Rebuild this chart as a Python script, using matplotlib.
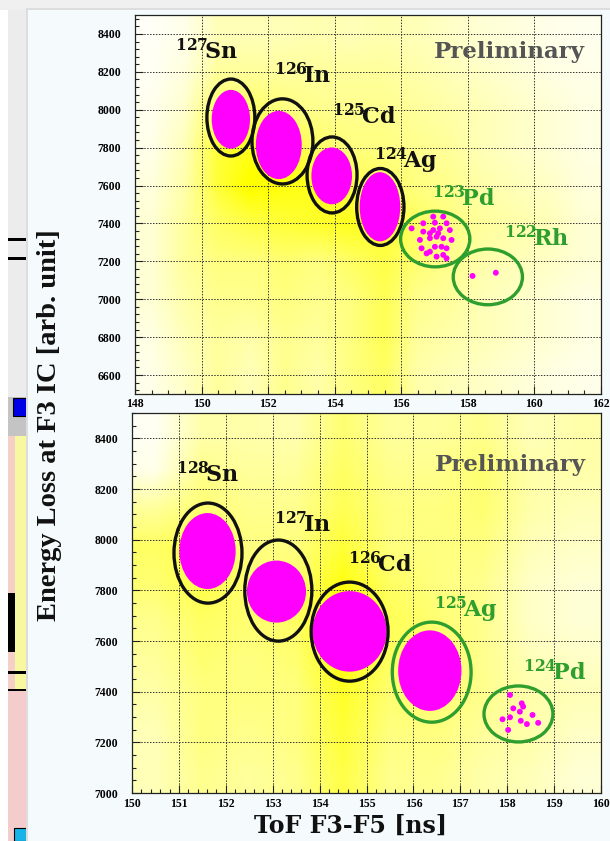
import numpy as np
import matplotlib
matplotlib.use('Agg')
import matplotlib.pyplot as plt
from matplotlib.patches import Ellipse, Rectangle
from matplotlib.colors import LinearSegmentedColormap
from matplotlib.ticker import MultipleLocator

plt.rcParams['font.family'] = ['Liberation Serif', 'DejaVu Serif']
plt.rcParams['font.weight'] = 'bold'
plt.rcParams['mathtext.fontset'] = 'dejavuserif'

# ---------------- data: top panel ----------------
top_mass = ['127', '126', '125', '124', '123', '122']
top_elem = ['Sn', 'In', 'Cd', 'Ag', 'Pd', 'Rh']
top_lab_x = [150.16, 153.05, 154.88, 156.14, 157.88, 160.08]
top_lab_y = [8305, 8178, 7962, 7730, 7529, 7318]
top_ring_x = [150.88, 152.43, 153.92, 155.37, 157.02, 158.60]
top_ring_y = [7959, 7833, 7656, 7487, 7318, 7118]
top_ring_w = [1.44, 1.83, 1.50, 1.42, 2.08, 2.08]
top_ring_h = [406, 449, 401, 406, 294, 294]
top_green = [False, False, False, False, True, True]
top_fill_x = [150.88, 152.32, 153.91, 155.36]
top_fill_y = [7950, 7814, 7651, 7488]
top_fill_w = [1.15, 1.38, 1.22, 1.22]
top_fill_h = [310, 360, 300, 365]
top_pd_x = [156.31, 156.66, 156.96, 157.26, 157.01, 157.36, 157.46, 157.16, 156.86,
            156.66, 156.56, 156.86, 157.06, 157.26, 157.51, 156.61, 156.86, 157.01,
            157.21, 157.36, 157.06, 157.26, 157.36, 156.76, 157.11, 156.96]
top_pd_y = [7374, 7401, 7436, 7436, 7404, 7401, 7365, 7374, 7348,
            7357, 7313, 7322, 7330, 7322, 7313, 7269, 7251, 7277,
            7277, 7269, 7225, 7234, 7216, 7242, 7348, 7365]
top_rh_x = [158.14, 158.84]
top_rh_y = [7123, 7140]
# background density (rows from 8500 down to 6500, columns 148..162 per ns)
top_density = [
    [0.03, 0.08, 0.25, 0.25, 0.25, 0.28, 0.25, 0.28, 0.25, 0.20, 0.15, 0.12, 0.08, 0.06],
    [0.04, 0.12, 0.35, 0.35, 0.35, 0.35, 0.35, 0.35, 0.30, 0.25, 0.20, 0.15, 0.10, 0.08],
    [0.06, 0.18, 0.55, 0.55, 0.45, 0.40, 0.40, 0.40, 0.35, 0.30, 0.25, 0.20, 0.15, 0.10],
    [0.08, 0.25, 0.70, 0.80, 0.70, 0.55, 0.45, 0.45, 0.40, 0.35, 0.25, 0.20, 0.15, 0.10],
    [0.12, 0.30, 0.70, 0.95, 0.85, 0.80, 0.65, 0.55, 0.45, 0.40, 0.30, 0.25, 0.20, 0.12],
    [0.15, 0.35, 0.55, 0.65, 0.70, 0.75, 0.80, 0.75, 0.55, 0.45, 0.35, 0.30, 0.25, 0.15],
    [0.15, 0.35, 0.45, 0.45, 0.50, 0.45, 0.55, 0.65, 0.50, 0.40, 0.30, 0.25, 0.20, 0.15],
    [0.15, 0.30, 0.40, 0.40, 0.45, 0.40, 0.45, 0.60, 0.40, 0.35, 0.25, 0.20, 0.15, 0.10],
    [0.10, 0.25, 0.35, 0.30, 0.40, 0.35, 0.45, 0.60, 0.35, 0.30, 0.25, 0.20, 0.15, 0.10],
    [0.08, 0.20, 0.35, 0.25, 0.40, 0.30, 0.45, 0.55, 0.30, 0.25, 0.20, 0.15, 0.10, 0.08],
]

# ---------------- data: bottom panel ----------------
bot_mass = ['128', '127', '126', '125', '124']
bot_elem = ['Sn', 'In', 'Cd', 'Ag', 'Pd']
bot_lab_x = [151.62, 153.65, 155.29, 157.12, 159.00]
bot_lab_y = [8255, 8058, 7900, 7722, 7474]
bot_ring_x = [151.62, 153.12, 154.64, 156.39, 158.24]
bot_ring_y = [7947, 7799, 7637, 7477, 7312]
bot_ring_w = [1.45, 1.43, 1.64, 1.68, 1.47]
bot_ring_h = [395, 399, 391, 395, 221]
bot_green = [False, False, False, True, True]
bot_fill_x = [151.61, 153.08, 154.64, 156.35]
bot_fill_y = [7955, 7795, 7638, 7483]
bot_fill_w = [1.20, 1.26, 1.58, 1.35]
bot_fill_h = [300, 245, 318, 318]
bot_pd_x = [158.06, 158.31, 158.34, 158.13, 158.27, 158.06, 157.90, 158.42, 158.54,
            158.66, 158.29, 158.02]
bot_pd_y = [7387, 7354, 7341, 7334, 7321, 7299, 7291, 7272, 7308, 7277, 7285, 7249]
# rows from 8500 down to 7000 (150 each), columns 150..160 per ns
bot_density = [
    [0.04, 0.30, 0.30, 0.28, 0.50, 0.35, 0.35, 0.40, 0.25, 0.30],
    [0.08, 0.40, 0.35, 0.35, 0.55, 0.40, 0.40, 0.50, 0.30, 0.30],
    [0.35, 0.50, 0.40, 0.40, 0.60, 0.45, 0.45, 0.50, 0.30, 0.25],
    [0.55, 0.65, 0.45, 0.45, 0.70, 0.45, 0.45, 0.45, 0.25, 0.20],
    [0.50, 0.65, 0.50, 0.50, 0.85, 0.55, 0.45, 0.40, 0.20, 0.15],
    [0.40, 0.55, 0.50, 0.55, 0.95, 0.60, 0.50, 0.40, 0.20, 0.15],
    [0.35, 0.50, 0.45, 0.50, 0.85, 0.55, 0.55, 0.40, 0.25, 0.20],
    [0.30, 0.45, 0.45, 0.45, 0.75, 0.50, 0.50, 0.40, 0.30, 0.25],
    [0.25, 0.45, 0.40, 0.45, 0.70, 0.45, 0.45, 0.35, 0.30, 0.20],
    [0.25, 0.40, 0.35, 0.40, 0.65, 0.40, 0.40, 0.30, 0.25, 0.15],
]

prelim_top = (159.26, 8305)
prelim_bot = (158.06, 8295)

# ---------------- styling ----------------
W, H = 610, 841
fig = plt.figure(figsize=(W / 100, H / 100), dpi=100, facecolor='white')

def frect(x0, y0, x1, y1, **kw):
    fig.patches.append(Rectangle((x0 / W, 1 - y1 / H), (x1 - x0) / W, (y1 - y0) / H,
                                 transform=fig.transFigure, zorder=-10, **kw))

# slide pieces on the left
frect(8, 0, 28, 397, facecolor='#ececec', edgecolor='none')
frect(8, 238, 28, 240.5, facecolor='black', edgecolor='none')
frect(8, 257, 28, 259.5, facecolor='black', edgecolor='none')
frect(8, 397, 28, 436, facecolor='#c4c4c4', edgecolor='none')
frect(13, 398, 27, 416, facecolor='#0000e6', edgecolor='black', linewidth=0.8)
frect(8, 436, 28, 690, facecolor='#f8f8a0', edgecolor='none')
frect(8, 436, 15, 690, facecolor='#f4d0c8', edgecolor='none')
frect(8, 593, 15, 652, facecolor='black', edgecolor='none')
frect(8, 671, 28, 673.5, facecolor='black', edgecolor='none')
frect(8, 689, 28, 691.5, facecolor='black', edgecolor='none')
frect(8, 691, 28, 841, facecolor='#f4cccc', edgecolor='none')
frect(14, 828, 28, 841, facecolor='#18b4e8', edgecolor='black', linewidth=0.8)
# card
frect(0, 0, 610, 10, facecolor='#f0f0f0', edgecolor='none')
frect(26, 8, 610, 841, facecolor='#dddddd', edgecolor='none')
frect(28, 10, 610, 841, facecolor='#f5fbfc', edgecolor='none')

cmap = LinearSegmentedColormap.from_list('wy', ['#ffffff', '#ffff00'])
MAG = '#ff00ff'
GREEN = '#2e9e2e'
GRIDC = '#333333'


def style_axes(ax, xlim, ylim, xmaj, xmin, ymaj, ymin, xpad):
    ax.set_xlim(*xlim)
    ax.set_ylim(*ylim)
    ax.xaxis.set_major_locator(MultipleLocator(xmaj))
    ax.xaxis.set_minor_locator(MultipleLocator(xmin))
    ax.yaxis.set_major_locator(MultipleLocator(ymaj))
    ax.yaxis.set_minor_locator(MultipleLocator(ymin))
    ax.tick_params(which='both', direction='in', top=False, right=False,
                   labelsize=8.5, width=0.8, color='#222222')
    ax.tick_params(which='major', length=6)
    ax.tick_params(which='minor', length=3)
    ax.tick_params(axis='y', pad=10)
    ax.tick_params(axis='x', pad=xpad)
    ax.grid(which='major', color=GRIDC, linestyle=(0, (1.5, 1.5)), linewidth=0.7)
    for s in ax.spines.values():
        s.set_color('#222222')
        s.set_linewidth(0.9)
    for lab in ax.get_xticklabels() + ax.get_yticklabels():
        lab.set_fontweight('bold')
        lab.set_fontfamily('Liberation Serif')


def draw_panel(ax, density, xlim, ylim, fx, fy, fw, fh, rx, ry, rw, rh, green,
               masses, elems, lx, ly, dots, prelim):
    ax.imshow(np.array(density), extent=[xlim[0], xlim[1], ylim[0], ylim[1]],
              origin='upper', aspect='auto', cmap=cmap, vmin=0, vmax=0.9,
              interpolation='bilinear', zorder=0)
    for x, y, w, h in zip(fx, fy, fw, fh):
        ax.add_patch(Ellipse((x, y), w, h, facecolor=MAG, edgecolor='none', zorder=3))
    for dx, dy in dots:
        ax.scatter(dx, dy, s=18, color=MAG, edgecolors='none', zorder=4)
    for x, y, w, h, g in zip(rx, ry, rw, rh, green):
        ax.add_patch(Ellipse((x, y), w, h, facecolor='none',
                             edgecolor=GREEN if g else '#111111', linewidth=2.4, zorder=5))
    for m, e, x, y, g in zip(masses, elems, lx, ly, green):
        ax.text(x, y, r'$^{\mathbf{' + m + r'}}\!\mathbf{' + e + '}$',
                ha='center', va='center', fontsize=16,
                color=GREEN if g else '#111111', zorder=6)
    ax.text(prelim[0], prelim[1], 'Preliminary', ha='center', va='center',
            fontsize=16.5, fontweight='bold', family='DejaVu Serif', color='#555555', zorder=6)


ax1 = fig.add_axes([135 / W, 1 - 394 / H, (601 - 135) / W, (394 - 15) / H])
draw_panel(ax1, top_density, (148, 162), (6500, 8500), top_fill_x, top_fill_y, top_fill_w,
           top_fill_h, top_ring_x, top_ring_y, top_ring_w, top_ring_h, top_green,
           top_mass, top_elem, top_lab_x, top_lab_y,
           [(top_pd_x, top_pd_y), (top_rh_x, top_rh_y)], prelim_top)
style_axes(ax1, (148, 162), (6500, 8500), 2, 0.5, 200, 40, 3)

ax2 = fig.add_axes([132 / W, 1 - 793 / H, (601 - 132) / W, (793 - 413) / H])
draw_panel(ax2, bot_density, (150, 160), (7000, 8500), bot_fill_x, bot_fill_y, bot_fill_w,
           bot_fill_h, bot_ring_x, bot_ring_y, bot_ring_w, bot_ring_h, bot_green,
           bot_mass, bot_elem, bot_lab_x, bot_lab_y,
           [(bot_pd_x, bot_pd_y)], prelim_bot)
style_axes(ax2, (150, 160), (7000, 8500), 1, 0.2, 200, 50, 3.5)

fig.text(50 / W, 1 - 425 / H, 'Energy Loss at F3 IC [arb. unit]', rotation=90,
         ha='center', va='center', fontsize=20.5, fontweight='bold',
         family='Liberation Serif', color='#111111')
fig.text(351 / W, 1 - 826 / H, 'ToF F3-F5 [ns]', ha='center', va='center',
         fontsize=17, fontweight='bold', family='DejaVu Serif', color='#111111')

fig.savefig('out.png', dpi=100, facecolor=fig.get_facecolor())
